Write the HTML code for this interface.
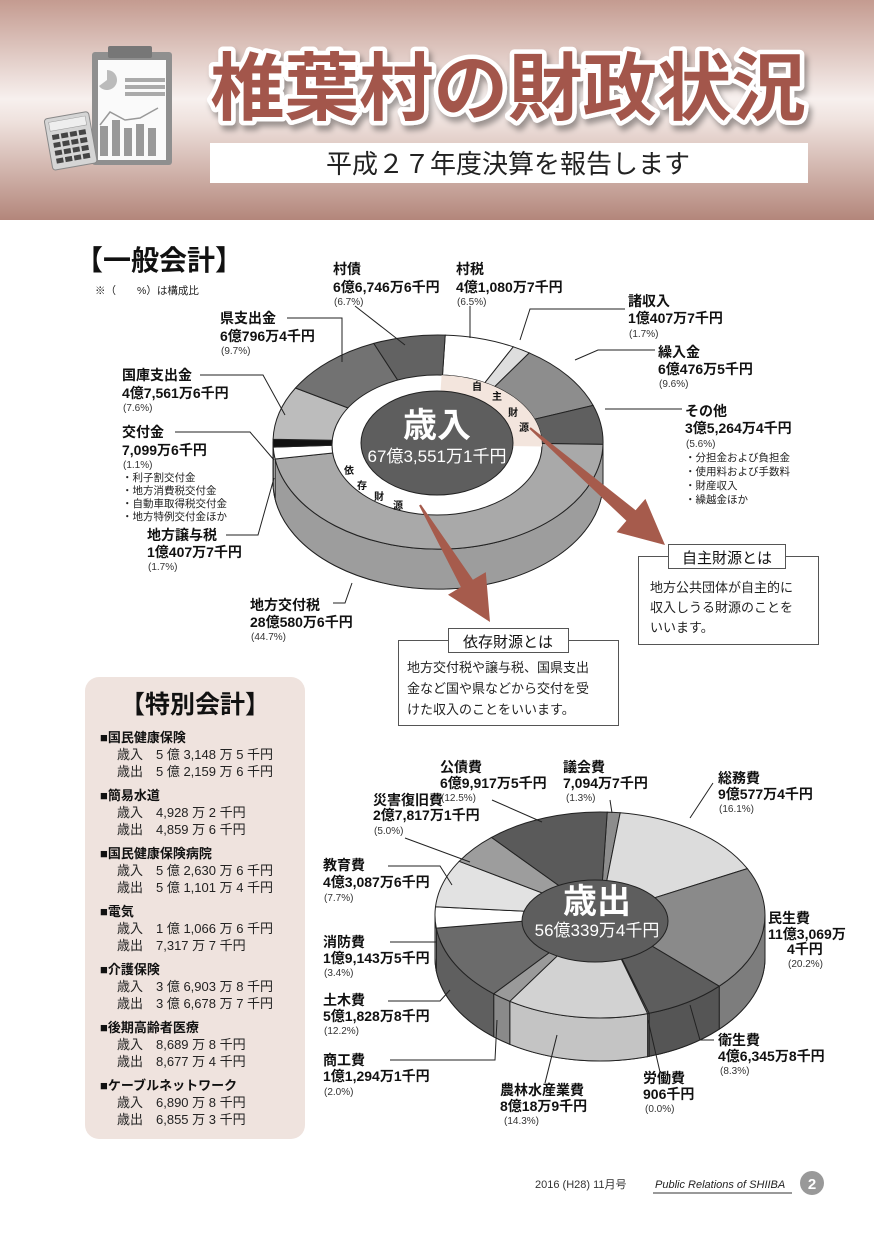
<!DOCTYPE html>
<html><head><meta charset="utf-8">
<style>
html,body{margin:0;padding:0;background:#fff;}
svg{display:block;}
text{font-family:"Liberation Sans","Noto Sans CJK JP",sans-serif;}
.b{font-weight:bold;font-size:14px;fill:#111;}
.p{font-size:10px;fill:#333;}
.s{font-size:10.5px;fill:#222;}
.t{font-size:13px;fill:#222;}
.ln{stroke:#222;stroke-width:1;fill:none;}
</style></head><body>
<svg id="sv" width="874" height="1236" viewBox="0 0 874 1236" xmlns="http://www.w3.org/2000/svg">
<defs>
<linearGradient id="hg" x1="0" y1="0" x2="0" y2="1">
<stop offset="0" stop-color="#c49b90"/>
<stop offset="0.45" stop-color="#f7f0ee"/>
<stop offset="0.55" stop-color="#efe2de"/>
<stop offset="1" stop-color="#b3867b"/>
</linearGradient>
<filter id="sh" x="-5%" y="-5%" width="115%" height="130%"><feDropShadow dx="3" dy="5" stdDeviation="3" flood-color="#000" flood-opacity="0.35"/></filter>
</defs>
<rect x="0" y="0" width="874" height="220" fill="url(#hg)"/>
<!-- icon -->
<rect x="92" y="52" width="80" height="113" fill="#8f8f8f" rx="3"/>
<rect x="98" y="60" width="68" height="100" fill="#fafafa"/>
<rect x="108" y="46" width="44" height="12" fill="#777" rx="2"/>
<path d="M107 80 L107 70 A10 10 0 1 1 99 86 Z" fill="#bbb"/>
<rect x="125" y="78" width="40" height="4" fill="#aaa"/><rect x="125" y="85" width="40" height="4" fill="#aaa"/><rect x="125" y="92" width="40" height="4" fill="#aaa"/>
<polyline points="100,125 110,112 125,120 140,118 158,108" fill="none" stroke="#999" stroke-width="1.5"/>
<rect x="100" y="126" width="8" height="30" fill="#999"/><rect x="112" y="120" width="8" height="36" fill="#999"/><rect x="124" y="128" width="8" height="28" fill="#999"/><rect x="136" y="124" width="8" height="32" fill="#999"/><rect x="148" y="128" width="8" height="28" fill="#999"/>
<g transform="rotate(-10 70 140)">
<rect x="48" y="115" width="45" height="52" fill="#d5d5d5" stroke="#888" rx="3"/>
<rect x="52" y="119" width="37" height="9" fill="#eee" stroke="#999" stroke-width="0.5"/>
<g fill="#444">
<rect x="53" y="132" width="7" height="5"/><rect x="62" y="132" width="7" height="5"/><rect x="71" y="132" width="7" height="5"/><rect x="80" y="132" width="7" height="5"/>
<rect x="53" y="140" width="7" height="5"/><rect x="62" y="140" width="7" height="5"/><rect x="71" y="140" width="7" height="5"/><rect x="80" y="140" width="7" height="5"/>
<rect x="53" y="148" width="7" height="5"/><rect x="62" y="148" width="7" height="5"/><rect x="71" y="148" width="7" height="5"/><rect x="80" y="148" width="7" height="5"/>
<rect x="53" y="156" width="7" height="5"/><rect x="62" y="156" width="7" height="5"/><rect x="71" y="156" width="7" height="5"/><rect x="80" y="156" width="7" height="5"/>
</g></g>
<text x="508" y="114" text-anchor="middle" font-size="74" font-weight="bold" fill="#a3574b" stroke="#fff" stroke-width="9" paint-order="stroke" stroke-linejoin="round" filter="url(#sh)" textLength="596" lengthAdjust="spacingAndGlyphs">椎葉村の財政状況</text>
<rect x="210" y="143" width="598" height="40" fill="#fff"/>
<text x="508" y="173" text-anchor="middle" font-size="26" fill="#222">平成２７年度決算を報告します</text>

<!-- general -->
<text x="75" y="270" font-size="28" font-weight="bold" fill="#111">【一般会計】</text>
<text x="95" y="294" class="s">※（　　%）は構成比</text>

<g id="c1"></g>
<g id="c2"></g>

<!-- ring labels -->
<g font-size="10" font-weight="bold" fill="#111">
<text x="472" y="390">自</text><text x="492" y="400">主</text><text x="508" y="416">財</text><text x="519" y="431">源</text>
<text x="344" y="474">依</text><text x="357" y="489">存</text><text x="374" y="500">財</text><text x="393" y="509">源</text>
</g>
<text x="437" y="437" text-anchor="middle" font-size="34" font-weight="bold" fill="#fff">歳入</text>
<text x="437" y="462" text-anchor="middle" font-size="17" fill="#fff">67億3,551万1千円</text>
<text x="597" y="913" text-anchor="middle" font-size="34" font-weight="bold" fill="#fff">歳出</text>
<text x="597" y="936" text-anchor="middle" font-size="17" fill="#fff">56億339万4千円</text>

<!-- arrows -->
<polygon points="529.3,428.8 626.4,520.8 616.6,532.1 665,545 645.4,498.9 635.6,510.2 530.7,427.2" fill="#a65b4c"/>
<polygon points="419.1,505.5 460.9,587 448,594.7 490,622 485.8,572.1 472.9,579.8 420.9,504.5" fill="#a65b4c"/>

<!-- callouts -->
<rect x="638.5" y="556.5" width="180" height="88" fill="#fff" stroke="#555"/>
<rect x="668.5" y="544.5" width="117" height="24" fill="#fff" stroke="#555"/>
<text x="727" y="563" text-anchor="middle" font-size="15" fill="#111">自主財源とは</text>
<text x="650" y="592" class="t">地方公共団体が自主的に</text>
<text x="650" y="612" class="t">収入しうる財源のことを</text>
<text x="650" y="632" class="t">いいます。</text>
<rect x="398.5" y="640.5" width="220" height="85" fill="#fff" stroke="#555"/>
<rect x="448.5" y="628.5" width="120" height="24" fill="#fff" stroke="#555"/>
<text x="508" y="647" text-anchor="middle" font-size="15" fill="#111">依存財源とは</text>
<text x="407" y="672" class="t">地方交付税や譲与税、国県支出</text>
<text x="407" y="693" class="t">金など国や県などから交付を受</text>
<text x="407" y="714" class="t">けた収入のことをいいます。</text>

<!-- top labels -->
<g>
<text x="333" y="274" class="b">村債</text><text x="333" y="292" class="b">6億6,746万6千円</text><text x="334" y="305" class="p">(6.7%)</text>
<text x="456" y="274" class="b">村税</text><text x="456" y="292" class="b">4億1,080万7千円</text><text x="457" y="305" class="p">(6.5%)</text>
<text x="628" y="306" class="b">諸収入</text><text x="628" y="323" class="b">1億407万7千円</text><text x="629" y="337" class="p">(1.7%)</text>
<text x="658" y="357" class="b">繰入金</text><text x="658" y="374" class="b">6億476万5千円</text><text x="659" y="387" class="p">(9.6%)</text>
<text x="685" y="416" class="b">その他</text><text x="685" y="433" class="b">3億5,264万4千円</text><text x="686" y="447" class="p">(5.6%)</text>
<text x="685" y="461" class="s">・分担金および負担金</text><text x="685" y="475" class="s">・使用料および手数料</text><text x="685" y="489" class="s">・財産収入</text><text x="685" y="503" class="s">・繰越金ほか</text>
<text x="220" y="323" class="b">県支出金</text><text x="220" y="341" class="b">6億796万4千円</text><text x="221" y="354" class="p">(9.7%)</text>
<text x="122" y="380" class="b">国庫支出金</text><text x="122" y="398" class="b">4億7,561万6千円</text><text x="123" y="411" class="p">(7.6%)</text>
<text x="122" y="437" class="b">交付金</text><text x="122" y="455" class="b">7,099万6千円</text><text x="123" y="468" class="p">(1.1%)</text>
<text x="122" y="481" class="s">・利子割交付金</text><text x="122" y="494" class="s">・地方消費税交付金</text><text x="122" y="507" class="s">・自動車取得税交付金</text><text x="122" y="520" class="s">・地方特例交付金ほか</text>
<text x="147" y="540" class="b">地方譲与税</text><text x="147" y="557" class="b">1億407万7千円</text><text x="148" y="570" class="p">(1.7%)</text>
<text x="250" y="610" class="b">地方交付税</text><text x="250" y="627" class="b">28億580万6千円</text><text x="251" y="640" class="p">(44.7%)</text>
<polyline class="ln" points="355,306 405,345"/>
<polyline class="ln" points="470,306 470,338"/>
<polyline class="ln" points="625,309 530,309 520,340"/>
<polyline class="ln" points="655,350 598,350 575,360"/>
<polyline class="ln" points="682,409 605,409"/>
<polyline class="ln" points="287,318 342,318 342,362"/>
<polyline class="ln" points="200,375 263,375 285,415"/>
<polyline class="ln" points="175,432 250,432 274,460"/>
<polyline class="ln" points="226,535 258,535 274,478"/>
<polyline class="ln" points="333,603 345,603 352,583"/>
</g>

<!-- special -->
<rect x="85" y="677" width="220" height="462" rx="14" fill="#efe3de"/>
<text x="195" y="713" text-anchor="middle" font-size="25" font-weight="bold" fill="#111">【特別会計】</text>
<g id="sp" font-size="13"></g>

<!-- bottom labels -->
<g>
<text x="440" y="772" class="b">公債費</text><text x="440" y="788" class="b">6億9,917万5千円</text><text x="441" y="801" class="p">(12.5%)</text>
<text x="563" y="772" class="b">議会費</text><text x="563" y="788" class="b">7,094万7千円</text><text x="566" y="801" class="p">(1.3%)</text>
<text x="718" y="783" class="b">総務費</text><text x="718" y="799" class="b">9億577万4千円</text><text x="719" y="812" class="p">(16.1%)</text>
<text x="373" y="805" class="b">災害復旧費</text><text x="373" y="820" class="b">2億7,817万1千円</text><text x="374" y="834" class="p">(5.0%)</text>
<text x="323" y="870" class="b">教育費</text><text x="323" y="887" class="b">4億3,087万6千円</text><text x="324" y="901" class="p">(7.7%)</text>
<text x="768" y="923" class="b">民生費</text><text x="768" y="939" class="b">11億3,069万</text><text x="787" y="954" class="b">4千円</text><text x="788" y="967" class="p">(20.2%)</text>
<text x="323" y="947" class="b">消防費</text><text x="323" y="963" class="b">1億9,143万5千円</text><text x="324" y="976" class="p">(3.4%)</text>
<text x="323" y="1005" class="b">土木費</text><text x="323" y="1021" class="b">5億1,828万8千円</text><text x="324" y="1034" class="p">(12.2%)</text>
<text x="323" y="1065" class="b">商工費</text><text x="323" y="1081" class="b">1億1,294万1千円</text><text x="324" y="1095" class="p">(2.0%)</text>
<text x="500" y="1095" class="b">農林水産業費</text><text x="500" y="1111" class="b">8億18万9千円</text><text x="504" y="1124" class="p">(14.3%)</text>
<text x="643" y="1083" class="b">労働費</text><text x="643" y="1099" class="b">906千円</text><text x="645" y="1112" class="p">(0.0%)</text>
<text x="718" y="1045" class="b">衛生費</text><text x="718" y="1061" class="b">4億6,345万8千円</text><text x="720" y="1074" class="p">(8.3%)</text>
<polyline class="ln" points="492,800 542,822"/>
<polyline class="ln" points="610,800 612,813"/>
<polyline class="ln" points="713,783 690,818"/>
<polyline class="ln" points="405,838 470,862"/>
<polyline class="ln" points="388,866 440,866 452,885"/>
<polyline class="ln" points="390,942 436,942"/>
<polyline class="ln" points="388,1001 440,1001 450,990"/>
<polyline class="ln" points="390,1060 495,1060 497,1020"/>
<polyline class="ln" points="545,1083 557,1035"/>
<polyline class="ln" points="660,1072 648,1020"/>
<polyline class="ln" points="714,1040 700,1040 690,1005"/>
</g>

<!-- footer -->
<text x="535" y="1188" font-size="11" fill="#333" font-family="Liberation Serif,serif">2016 (H28) 11月号</text>
<text x="655" y="1188" font-size="11" font-style="italic" fill="#222" font-family="Liberation Serif,serif">Public Relations of  SHIIBA</text>
<line x1="653" y1="1193" x2="792" y2="1193" stroke="#333"/>
<circle cx="812" cy="1183" r="12" fill="#999"/>
<text x="812" y="1189" text-anchor="middle" font-size="15" font-weight="bold" fill="#fff">2</text>
</svg>
<script>
var NS="http://www.w3.org/2000/svg";
function el(p,tag,a){var e=document.createElementNS(NS,tag);for(var k in a)e.setAttribute(k,a[k]);p.appendChild(e);return e;}
function chart(g,cx,cy,rx,ry,d,start,segs){
  var tot=0;segs.forEach(function(s){tot+=s[0];});
  function P(t,dy){var r=t*Math.PI/180;return (cx+rx*Math.sin(r)).toFixed(1)+","+(cy-ry*Math.cos(r)+dy).toFixed(1);}
  var a=start,arr=[];
  segs.forEach(function(s){var b=a+s[0]/tot*360;arr.push([a,b,s]);a=b;});
  el(g,"ellipse",{cx:cx,cy:cy+d,rx:rx,ry:ry,fill:"#999",stroke:"#222"});
  arr.forEach(function(x){
    var a1=Math.max(x[0],90),b1=Math.min(x[1],270);
    if(a1<b1){
      el(g,"path",{d:"M"+P(a1,0)+" A"+rx+" "+ry+" 0 0 1 "+P(b1,0)+" L"+P(b1,d)+" A"+rx+" "+ry+" 0 0 0 "+P(a1,d)+"Z",fill:x[2][2],stroke:"#222","stroke-width":1});
    }
  });
  arr.forEach(function(x){
    var lg=(x[1]-x[0])>180?1:0;
    el(g,"path",{d:"M"+cx+","+cy+" L"+P(x[0],0)+" A"+rx+" "+ry+" 0 "+lg+" 1 "+P(x[1],0)+"Z",fill:x[2][1],stroke:"#222","stroke-width":1});
  });
  return arr;
}
var g1=document.getElementById("c1");
var a1=chart(g1,438,442,165,107,40,2.5,[
 [6.5,"#ffffff","#eee"],[1.7,"#dedede","#ccc"],[9.6,"#8d8d8d","#7a7a7a"],[5.6,"#5f5f5f","#555"],
 [44.7,"#a9a9a9","#9d9d9d"],[1.7,"#ffffff","#eee"],[1.1,"#111","#111"],[7.6,"#bcbcbc","#aaa"],
 [9.7,"#727272","#666"],[6.7,"#626262","#555"]]);
el(g1,"ellipse",{cx:437,cy:445,rx:105,ry:70,fill:"#fff",stroke:"#222"});
(function(){var cx=437,cy=445,rx=105,ry=70;function P(t){var r=t*Math.PI/180;return (cx+rx*Math.sin(r)).toFixed(1)+","+(cy-ry*Math.cos(r)).toFixed(1);}
 var e=a1[3][1];el(g1,"path",{d:"M"+cx+","+cy+" L"+P(2.5)+" A"+rx+" "+ry+" 0 0 1 "+P(e)+"Z",fill:"#f3e5dd",stroke:"none"});})();
el(g1,"ellipse",{cx:437,cy:443,rx:76,ry:52,fill:"#5e5e5e",stroke:"#222"});
var g2=document.getElementById("c2");
chart(g2,600,915,165,103,43,2.5,[
 [1.3,"#8d8d8d","#777"],[16.1,"#dcdcdc","#c8c8c8"],[20.2,"#8a8a8a","#7d7d7d"],[8.3,"#5d5d5d","#555"],
 [0.15,"#777","#666"],[14.3,"#d2d2d2","#c4c4c4"],[2.0,"#9a9a9a","#8a8a8a"],[12.2,"#6b6b6b","#5f5f5f"],
 [3.4,"#ffffff","#eee"],[7.7,"#e2e2e2","#d0d0d0"],[5.0,"#9d9d9d","#8d8d8d"],[12.5,"#5a5a5a","#505050"]]);
el(g2,"ellipse",{cx:595,cy:921,rx:73,ry:41,fill:"#5e5e5e",stroke:"#222"});
var sp=document.getElementById("sp");
var items=[["国民健康保険","歳入　5 億 3,148 万 5 千円","歳出　5 億 2,159 万 6 千円"],
["簡易水道","歳入　4,928 万 2 千円","歳出　4,859 万 6 千円"],
["国民健康保険病院","歳入　5 億 2,630 万 6 千円","歳出　5 億 1,101 万 4 千円"],
["電気","歳入　1 億 1,066 万 6 千円","歳出　7,317 万 7 千円"],
["介護保険","歳入　3 億 6,903 万 8 千円","歳出　3 億 6,678 万 7 千円"],
["後期高齢者医療","歳入　8,689 万 8 千円","歳出　8,677 万 4 千円"],
["ケーブルネットワーク","歳入　6,890 万 8 千円","歳出　6,855 万 3 千円"]];
items.forEach(function(it,i){var y=742+i*58;
 var t=el(sp,"text",{x:100,y:y,"font-weight":"bold",fill:"#111"});t.textContent="■"+it[0];
 t=el(sp,"text",{x:117,y:y+17,fill:"#222"});t.textContent=it[1];
 t=el(sp,"text",{x:117,y:y+34,fill:"#222"});t.textContent=it[2];});
</script>
</body></html>
